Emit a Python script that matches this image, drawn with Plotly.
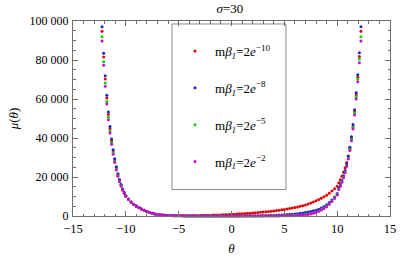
import plotly.graph_objects as go

# ---------------- data ----------------
theta = [-12.25, -12.1, -11.95, -11.8, -11.65, -11.5, -11.35, -11.2, -11.05, -10.9,
         -10.75, -10.6, -10.45, -10.3, -10.15,
         -10.0, -9.75, -9.5, -9.25, -9.0, -8.75, -8.5, -8.25, -8.0, -7.75, -7.5, -7.25,
         -7.0, -6.75, -6.5, -6.25, -6.0,
         -5.75, -5.5, -5.25, -5.0, -4.75, -4.5, -4.25, -4.0, -3.75, -3.5, -3.25, -3.0,
         -2.75, -2.5, -2.25, -2.0, -1.75, -1.5, -1.25, -1.0, -0.75, -0.5, -0.25, 0.0,
         0.25, 0.5, 0.75, 1.0, 1.25, 1.5, 1.75, 2.0, 2.25, 2.5, 2.75, 3.0, 3.25, 3.5,
         3.75, 4.0, 4.25, 4.5, 4.75, 5.0, 5.25, 5.5, 5.75,
         6.0, 6.25, 6.5, 6.75, 7.0, 7.25, 7.5, 7.75, 8.0, 8.25, 8.5, 8.75, 9.0, 9.25,
         9.5, 9.75, 10.0,
         10.15, 10.3, 10.45, 10.6, 10.75, 10.9, 11.05, 11.2, 11.35, 11.5, 11.65, 11.8,
         11.95, 12.1, 12.25]

mu_red = [94800, 81600, 70300, 60500, 52100, 44900, 38600, 33300, 28700, 24700,
          21300, 18400, 15900, 13700, 11900,
          10300, 8650, 7150, 6000, 5100, 4300, 3550, 2950, 2250, 1800, 1400, 1100,
          860, 680, 540, 440, 370,
          330, 300, 280, 260, 250, 245, 245, 250, 260, 275, 290, 310,
          335, 360, 390, 420, 460, 500, 550, 600, 660, 720, 790, 860,
          930, 1010, 1090, 1170, 1260, 1350, 1450, 1550, 1660, 1780, 1900, 2030, 2170, 2310,
          2460, 2620, 2790, 2970, 3160, 3360, 3570, 3800, 4040,
          4300, 4600, 4950, 5300, 5700, 6150, 6650, 7200, 7800, 8450, 9150, 9900, 10700,
          11700, 12800, 14000, 15300,
          17000, 18600, 20400, 22500, 24800, 27500, 30800, 34800, 39800, 45800, 53400, 62000,
          71200, 81800, 94800]

mu_blue = [97000, 83500, 71900, 61900, 53300, 45900, 39500, 34000, 29300, 25200,
           21700, 18700, 16100, 13900, 12000,
           10400, 8700, 7200, 6000, 5100, 4300, 3550, 2950, 2250, 1800, 1400, 1080,
           830, 640, 490, 370, 280,
           215, 165, 125, 95, 75, 60, 48, 38, 32, 28, 25, 23,
           22, 22, 22, 22, 23, 23, 24, 25, 26, 27, 28, 30,
           40, 45, 55, 65, 75, 90, 105, 120, 140, 160, 190, 220, 250, 290,
           330, 380, 430, 490, 560, 650, 740, 850, 950,
           1050, 1200, 1350, 1550, 1750, 2000, 2300, 2650, 3000, 3500, 4100, 4900, 5800,
           6900, 8200, 9700, 11500,
           14300, 16100, 18200, 20600, 23300, 26700, 30700, 35300, 40600, 46900, 54500, 63200,
           72500, 83700, 97000]

mu_green = [91900, 79100, 68200, 58700, 50600, 43600, 37600, 32400, 28000, 24100,
            20800, 17900, 15500, 13400, 11700,
            10200, 8600, 7100, 5950, 5050, 4250, 3520, 2920, 2220, 1770, 1370, 1060,
            810, 630, 480, 365, 275,
            212, 162, 121, 91, 71, 56, 43, 33, 26, 21, 17, 14,
            12, 10, 9, 8, 7, 7, 7, 7, 7, 7, 8, 8,
            10, 12, 14, 17, 20, 24, 28, 33, 39, 46, 54, 63, 74, 86,
            100, 116, 135, 157, 182, 210, 245, 285, 330,
            380, 450, 540, 650, 800, 980, 1220, 1550, 2000, 2600, 3300, 4150, 5100,
            6300, 7700, 9300, 11100,
            13800, 15600, 17600, 20000, 22600, 25800, 29700, 34200, 39300, 45400, 52800, 61200,
            70300, 80500, 91900]

mu_magenta = [89700, 77300, 66600, 57400, 49400, 42600, 36800, 31700, 27400, 23600,
              20400, 17600, 15300, 13200, 11500,
              10100, 8500, 7000, 5900, 5000, 4200, 3500, 2900, 2200, 1750, 1350, 1050,
              800, 620, 470, 360, 270,
              210, 160, 120, 90, 70, 55, 42, 32, 25, 20, 16, 13,
              11, 9, 8, 7, 6, 6, 5, 5, 5, 5, 5, 5,
              5, 5, 5, 5, 6, 6, 7, 8, 9, 11, 13, 16, 20, 25,
              32, 40, 50, 62, 77, 95, 118, 145, 180,
              220, 290, 380, 480, 600, 760, 1000, 1350, 1800, 2400, 3100, 3900, 4800,
              6000, 7400, 9000, 10800,
              13600, 15300, 17300, 19600, 22200, 25400, 29200, 33600, 38600, 44600, 51800, 60000,
              68800, 78600, 89700]

series_names = ["m<i>β</i><sub><i>1</i></sub>=2<i>e</i><sup>−10</sup>",
                "m<i>β</i><sub><i>1</i></sub>=2<i>e</i><sup>−8</sup>",
                "m<i>β</i><sub><i>1</i></sub>=2<i>e</i><sup>−5</sup>",
                "m<i>β</i><sub><i>1</i></sub>=2<i>e</i><sup>−2</sup>"]
series_values = [mu_red, mu_blue, mu_green, mu_magenta]
series_colors = ["rgb(225,0,0)", "rgb(30,30,200)", "rgb(0,215,0)", "rgb(215,0,215)"]

x_tick_vals = [-15, -10, -5, 0, 5, 10, 15]
x_tick_text = ["−15", "−10", "−5", "0", "5", "10", "15"]
y_tick_vals = [0, 20000, 40000, 60000, 80000, 100000]
y_tick_text = ["0", "20 000", "40 000", "60 000", "80 000", "100 000"]

# ---------------- figure ----------------
FONT = "Liberation Serif"
AXC = "#6e6e6e"

fig = go.Figure()
for i, (name, vals, col) in enumerate(zip(series_names, series_values, series_colors)):
    fig.add_trace(go.Scatter(
        x=theta, y=vals, mode="markers", name=name,
        legendgroup="g%d" % i,
        marker=dict(color=col, size=3, line=dict(width=0)),
        cliponaxis=False,
    ))

L, R, T, B = 73, 390, 21, 216.5
def px2x(px):
    return (px - L) / (R - L)
def py2y(py):
    return (B - py) / (B - T)

# legend frame (drawn as a box inside the plot area)
fig.add_shape(type="rect", xref="paper", yref="paper",
              x0=px2x(172), x1=px2x(286), y0=py2y(190), y1=py2y(24),
              line=dict(color="#8a8a8a", width=1), fillcolor="white", layer="below")

fig.update_layout(
    width=420, height=262,
    margin=dict(l=L, r=420 - R, t=T, b=262 - B),
    plot_bgcolor="white", paper_bgcolor="white",
    font=dict(family=FONT, size=12, color="black"),
    title=dict(text="<i>σ</i>=30", x=230 / 420, xanchor="center",
               y=1 - 8.5 / 262, yanchor="middle", font=dict(family=FONT, size=13)),
    showlegend=True,
    legend=dict(x=px2x(175), y=py2y(36), xanchor="left", yanchor="top",
                bgcolor="rgba(0,0,0,0)", borderwidth=0,
                tracegroupgap=17, font=dict(family=FONT, size=13),
                itemsizing="trace"),
    xaxis=dict(range=[-15, 15], tickmode="array", tickvals=x_tick_vals, ticktext=x_tick_text,
               ticks="inside", ticklen=5, tickcolor=AXC, tickwidth=1,
               minor=dict(tickmode="linear", tick0=0, dtick=1, ticks="inside", ticklen=2.5,
                          tickcolor=AXC, showgrid=False),
               showline=True, linecolor=AXC, linewidth=1, mirror="allticks",
               showgrid=False, zeroline=False, automargin=False, ticklabelstandoff=1,
               tickfont=dict(family=FONT, size=12.5),
               title=dict(text="<i>θ</i>", font=dict(family=FONT, size=13), standoff=8)),
    yaxis=dict(range=[0, 100000], tickmode="array", tickvals=y_tick_vals, ticktext=y_tick_text,
               ticks="inside", ticklen=5, tickcolor=AXC, tickwidth=1,
               minor=dict(tickmode="linear", tick0=0, dtick=5000, ticks="inside", ticklen=2.5,
                          tickcolor=AXC, showgrid=False),
               showline=True, linecolor=AXC, linewidth=1, mirror="allticks",
               showgrid=False, zeroline=False, automargin=False, ticklabelstandoff=1,
               tickfont=dict(family=FONT, size=12),
               title=dict(text="<i>μ</i>(<i>θ</i>)", font=dict(family=FONT, size=13), standoff=8)),
)

fig.write_html("out.html", config={"displayModeBar": False},
               post_script="document.body.style.margin='0';")
